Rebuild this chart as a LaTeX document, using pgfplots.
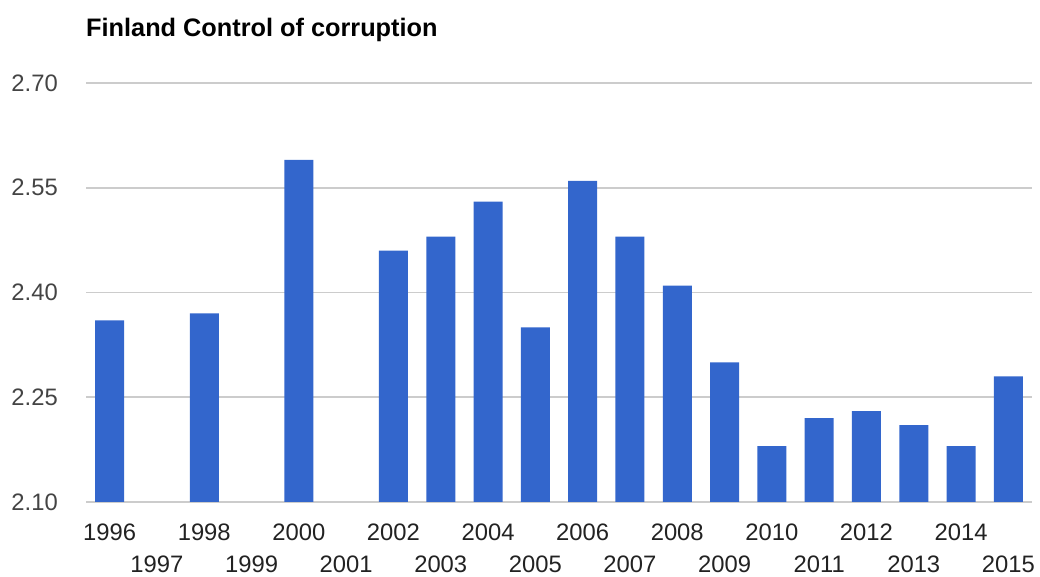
\documentclass[border=0pt]{standalone}
\usepackage{fontspec}
\setmainfont{Liberation Sans}
\usepackage{pgfplots}
\pgfplotsset{compat=1.18}
\definecolor{barblue}{HTML}{3366CC}
\definecolor{gridgray}{HTML}{CCCCCC}
\definecolor{ylab}{HTML}{444444}
\definecolor{xlab}{HTML}{222222}
\begin{document}
\begin{tikzpicture}
\useasboundingbox (0,0) rectangle (1040bp,577bp);
\begin{axis}[
  at={(86bp,75bp)}, anchor=south west,
  scale only axis, width=946bp, height=419bp,
  ybar, bar width=29bp, bar shift=0pt,
  xmin=-0.5, xmax=19.5, ymin=2.10, ymax=2.70,
  ytick={2.10,2.25,2.40,2.55,2.70},
  /pgf/number format/fixed, /pgf/number format/fixed zerofill,
  /pgf/number format/precision=2, /pgf/number format/assume math mode=true,
  yticklabel style={anchor=east, inner sep=0pt, xshift=-28bp, text=ylab, font=\fontsize{23.8bp}{28bp}\selectfont},
  xtick={0,2,...,18},
  xticklabels={1996,1998,2000,2002,2004,2006,2008,2010,2012,2014},
  extra x ticks={1,3,...,19},
  extra x tick labels={1997,1999,2001,2003,2005,2007,2009,2011,2013,2015},
  xticklabel style={anchor=base, inner sep=0pt, yshift=-38bp, text=xlab, font=\fontsize{23.8bp}{28bp}\selectfont},
  extra x tick style={grid=none, tick label style={yshift=-32bp}},
  major tick length=0pt,
  tick style={draw=none},
  axis line style={draw=none},
  ymajorgrids, grid style={color=gridgray, line width=1.6bp},
]
\addplot[fill=barblue, draw=none] coordinates {
  (0,2.36) (2,2.37) (4,2.59) (6,2.46) (7,2.48) (8,2.53) (9,2.35)
  (10,2.56) (11,2.48) (12,2.41) (13,2.30) (14,2.18) (15,2.22)
  (16,2.23) (17,2.21) (18,2.18) (19,2.28)
};
\end{axis}
\node[anchor=base west, inner sep=0pt, font=\bfseries\fontsize{25.3bp}{30bp}\selectfont] at (86bp,540bp) {Finland Control of corruption};
\end{tikzpicture}
\end{document}
